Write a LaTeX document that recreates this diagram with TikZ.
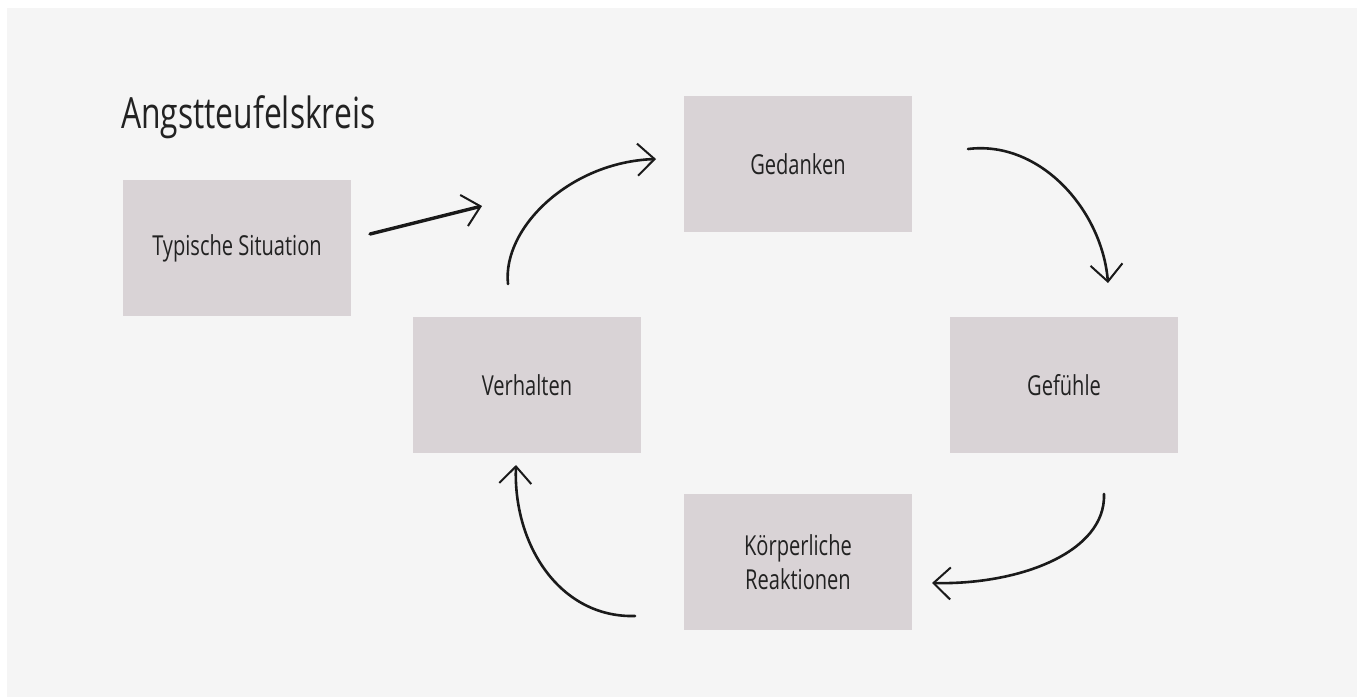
\documentclass[tikz,border=0pt]{standalone}
\usepackage{fontspec}
\setmainfont{Open Sans}[FakeStretch=0.73]
\newfontfamily\titlefont{Open Sans}[FakeStretch=0.74]
\usetikzlibrary{arrows.meta}
\definecolor{bgc}{HTML}{F5F5F5}
\definecolor{boxc}{HTML}{D9D3D6}
\definecolor{inkc}{HTML}{1A1A1A}
\definecolor{txtc}{HTML}{222222}
\tikzset{
  stepbox/.style={fill=boxc, draw=none, minimum width=228pt, minimum height=136pt, inner sep=0pt,
    text=txtc, font=\fontsize{27.5}{34}\selectfont, align=center},
  flow/.style={draw=inkc, line width=2.6pt, line cap=round,
    -{Straight Barb[length=17pt,width=32pt,line width=2pt]}},
}
\begin{document}
\begin{tikzpicture}[x=1pt,y=-1pt]
\useasboundingbox (0,0) rectangle (1363,697);
\fill[white] (0,0) rectangle (1363,697);
\fill[bgc] (7,8) rectangle (1357,697);

\node[anchor=base west, text=txtc, font=\titlefont\fontsize{43}{50}\selectfont, inner sep=0pt] (title) at (121,128) {Angstteufelskreis};

\node[stepbox] (sit) at (237,248) {Typische Situation};
\node[stepbox] (ged) at (798,164) {Gedanken};
\node[stepbox] (gef) at (1064,385) {Gefühle};
\node[stepbox] (ver) at (527,385) {Verhalten};
\node[stepbox] (koe) at (798,562) {Körperliche\\Reaktionen};

\coordinate (a1s) at (370,234);
\coordinate (a1e) at (482,206);
\coordinate (a2s) at (508,284);
\coordinate (a2e) at (656,159);
\coordinate (a3s) at (968,149);
\coordinate (a3e) at (1108,283);
\coordinate (a4s) at (1104,494);
\coordinate (a4e) at (932,583);
\coordinate (a5s) at (635,616);
\coordinate (a5e) at (516,465);

\draw[flow, line width=3.4pt] (a1s) -- (a1e);
\draw[flow] (a2s) .. controls (502,228) and (570,162) .. (a2e);
\draw[flow] (a3s) .. controls (1040,140) and (1102,210) .. (a3e);
\draw[flow] (a4s) .. controls (1106,552) and (1020,585) .. (a4e);
\draw[flow] (a5s) .. controls (560,618) and (513,545) .. (a5e);
\end{tikzpicture}
\end{document}
